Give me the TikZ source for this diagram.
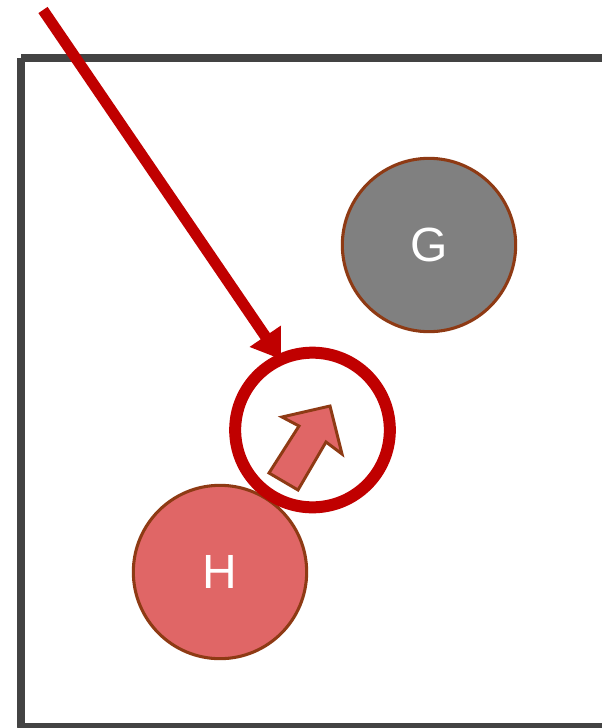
\documentclass[tikz,border=0pt]{standalone}
\usepackage{fontspec}
\setmainfont{Liberation Sans}
\usetikzlibrary{arrows.meta}
\definecolor{frame}{HTML}{434343}
\definecolor{darkred}{HTML}{C00000}
\definecolor{brownline}{HTML}{8E3A14}
\definecolor{pinkfill}{HTML}{E06666}
\definecolor{grayfill}{HTML}{808080}
\tikzset{
  ball/.style={circle, draw=brownline, line width=2.3pt, minimum size=130pt, inner sep=0pt, outer sep=0pt,
    text=white, font=\fontsize{36}{40}\selectfont},
  ring/.style={circle, draw=darkred, line width=9pt, minimum size=116pt, inner sep=0pt, outer sep=0pt},
  redarrow/.style={draw=darkred, line width=8.3pt, -{Triangle[length=21pt,width=27pt]}},
  blockarrow/.style={draw=brownline, fill=pinkfill, line width=2.2pt, line join=miter},
  framebox/.style={draw=frame, line width=6pt, line join=round}
}
\begin{document}
\begin{tikzpicture}[x=0.75pt,y=-0.75pt]
\useasboundingbox (0,0) rectangle (602,728);
\fill[white] (0,0) rectangle (602,728);
\draw[framebox] (21,58) -- (640,58) (21,58) -- (21,727) -- (640,727);
\node[ball, fill=grayfill] (G) at (429,245) {G};
\node[ball, fill=pinkfill] (H) at (220,572) {H};
\node[ring] (ringc) at (312.5,430) {};
\coordinate (start) at (43,10);
\draw[redarrow] (start) -- (ringc.114);
\draw[blockarrow] (330,406) -- (342,454) -- (326,442) -- (298,490) -- (269,473) -- (299,426) -- (282,417) -- cycle;
\end{tikzpicture}
\end{document}
